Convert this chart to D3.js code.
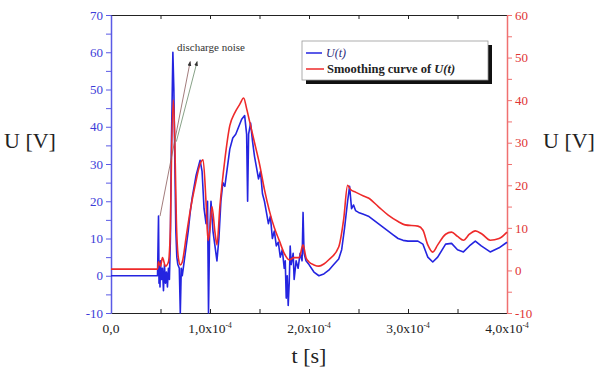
<!DOCTYPE html>
<html>
<head>
<meta charset="utf-8">
<script src="https://cdn.jsdelivr.net/npm/d3@7"></script>
<style>
  body { margin: 0; background: #fff; }
  svg text { font-family: "Liberation Serif", "DejaVu Serif", serif !important; }
</style>
</head>
<body>
<div id="chart"></div>
<script>
// time in units of 1e-4 s
const blueT = [0, 0.47, 0.475, 0.48, 0.485, 0.49, 0.495, 0.50, 0.51, 0.52, 0.53, 0.54, 0.55, 0.56, 0.57, 0.58, 0.59,
  0.60, 0.61, 0.625, 0.635, 0.645, 0.655, 0.665, 0.675, 0.69, 0.70, 0.71, 0.72, 0.74, 0.76, 0.78, 0.80, 0.82, 0.84,
  0.86, 0.88, 0.90, 0.92, 0.94, 0.96, 0.975, 0.985, 0.995, 1.01, 1.03, 1.05, 1.07, 1.09, 1.11, 1.13, 1.15, 1.17,
  1.20, 1.23, 1.26, 1.29, 1.32, 1.35, 1.37, 1.38, 1.39, 1.41, 1.43, 1.45, 1.47, 1.49, 1.51, 1.53, 1.55, 1.57, 1.59,
  1.61, 1.63, 1.65, 1.67, 1.69, 1.71, 1.73, 1.75, 1.76, 1.77, 1.78, 1.79, 1.80, 1.81, 1.82, 1.84, 1.85, 1.87, 1.89,
  1.91, 1.93, 1.94, 1.95, 1.97, 2.00, 2.05, 2.10, 2.15, 2.20, 2.25, 2.30, 2.33, 2.36, 2.39, 2.41, 2.43, 2.45, 2.47,
  2.50, 2.55, 2.60, 2.65, 2.70, 2.75, 2.80, 2.85, 2.90, 2.95, 3.00, 3.10, 3.15, 3.20, 3.25, 3.30, 3.38, 3.44, 3.50,
  3.56, 3.62, 3.68, 3.74, 3.83, 3.92, 4.00];
const blueU = [0, 0, 8, 16, -2, 3, -3, 4, -1, 2, -4, 3, -2, 1, -3, 2, -1,
  10, 35, 60, 50, 30, 12, 5, 3, 2, -10, 2, 0, 4, 8, 12, 17, 21, 24,
  27, 29, 31, 28, 18, 14, 20, -10, 10, 20, 12, 8, 4, 10, 20, 25, 24, 28,
  34, 37, 38, 40, 42, 43, 38, 20, 38, 41, 36, 32, 29, 26, 28, 22, 20, 17, 14,
  16, 10, 12, 8, 9, 5, 7, 2, 4, -6, 0, -8, -2, 8, 3, 6, -1, 4, 2,
  6, 4, 17, 6, 4, 3, 1, 0, 0.5, 1.5, 3, 4.5, 7, 13, 20, 24, 18, 19, 17.5,
  17, 16.5, 16, 15, 14, 13, 12, 11, 10, 9.5, 9.3, 9.3, 8.5, 5, 3.7, 5, 8.5, 8.7, 7,
  6.4, 8, 9.3, 8, 6.4, 7.5, 9];

const redT = [0, 0.47, 0.48, 0.50, 0.52, 0.55, 0.58, 0.60, 0.61, 0.63, 0.645, 0.66, 0.68, 0.70, 0.72, 0.76, 0.80,
  0.85, 0.90, 0.93, 0.96, 0.98, 1.00, 1.02, 1.05, 1.07, 1.10, 1.15, 1.20, 1.25, 1.30, 1.34, 1.37, 1.40, 1.45, 1.50,
  1.55, 1.60, 1.65, 1.70, 1.75, 1.80, 1.85, 1.90, 1.94, 1.97, 2.00, 2.05, 2.10, 2.15, 2.20, 2.30, 2.35, 2.39, 2.42,
  2.47, 2.55, 2.60, 2.70, 2.80, 2.90, 2.97, 3.10, 3.15, 3.20, 3.25, 3.30, 3.38, 3.44, 3.50, 3.56, 3.62, 3.68, 3.75,
  3.83, 3.92, 4.00];
const redU = [0.3, 0.3, 2, 1, 3, 1, 2, 10, 25, 40, 30, 12, 3, 1.3, 2, 8, 14,
  20, 25, 26, 16, 7, 10, 15, 9, 6, 15, 26, 34, 37, 39, 40.5, 38, 35, 30, 25,
  19, 14, 10, 7, 4, 2.5, 3, 3, 6, 3, 2, 1.3, 1, 1.5, 2.5, 5.5, 12, 20, 19,
  18.4, 17.5, 17, 15, 13, 11.5, 10.7, 10.4, 9.5, 6, 4.3, 6, 8.5, 9, 8, 7.1, 8.5, 9.3, 8.5,
  7.1, 7.5, 9];

const xTicks = [0, 1, 2, 3, 4];
const xTickLabels = ["0,0", "1,0x10", "2,0x10", "3,0x10", "4,0x10"];
const xTickExp = ["", "-4", "-4", "-4", "-4"];
const leftTicks = [-10, 0, 10, 20, 30, 40, 50, 60, 70];
const rightTicks = [-10, 0, 10, 20, 30, 40, 50, 60];

// annotation arrows, [t, U(left)] -> [t, U(left)]
const arrows = [
  [[0.495, 16], [0.80, 57.5]],
  [[0.66, 36], [0.87, 57.5]]
];

const W = 611, H = 383;
const mLeft = 111, mRight = 507, mTop = 15, mBottom = 313;
const blueCol = "#2424e0", redCol = "#ee2a2a";
const serif = "Liberation Serif, DejaVu Serif, serif";

const svg = d3.select("#chart").append("svg")
  .attr("width", W).attr("height", H)
  .style("font-family", serif);

const x = d3.scaleLinear().domain([0, 4]).range([mLeft, mRight]);
const yL = d3.scaleLinear().domain([-10, 70]).range([mBottom, mTop]);
const yR = d3.scaleLinear().domain([-10, 60]).range([mBottom, mTop]);

// axes
const gx = svg.append("g").attr("transform", "translate(0," + mBottom + ")")
  .call(d3.axisBottom(x).tickValues(d3.range(0, 4.01, 0.5)).tickSize(-4).tickSizeOuter(0).tickFormat(""));
gx.select(".domain").attr("stroke", "#222");
gx.selectAll(".tick line").attr("stroke", "#222");

const gxt = svg.append("g").attr("transform", "translate(0," + mTop + ")")
  .call(d3.axisTop(x).tickValues(d3.range(0, 4.01, 0.5)).tickSize(-4).tickSizeOuter(0).tickFormat(""));
gxt.select(".domain").attr("stroke", "#222");
gxt.selectAll(".tick line").attr("stroke", "#222");

xTicks.forEach((t, i) => {
  const tx = svg.append("text")
    .attr("x", x(t)).attr("y", mBottom + 20)
    .attr("text-anchor", "middle")
    .style("font-family", serif)
    .style("font-size", "13.5px").attr("fill", "#222")
    .text(xTickLabels[i]);
  if (xTickExp[i]) {
    tx.append("tspan").attr("dy", -5).style("font-size", "7.5px").text(xTickExp[i]);
  }
});

const gl = svg.append("g").attr("transform", "translate(" + mLeft + ",0)")
  .call(d3.axisLeft(yL).tickValues(d3.range(-10, 70.1, 5)).tickSize(5).tickSizeOuter(0)
    .tickFormat(d => leftTicks.includes(d) ? d : ""));
gl.attr("font-family", null);
gl.select(".domain").attr("stroke", "#5a5ae6").attr("stroke-width", 1.5);
gl.selectAll(".tick line").attr("stroke", "#5a5ae6");
gl.selectAll(".tick text").attr("fill", "#3c3cd8")
  .style("font-family", serif).style("font-size", "13px");

const gr = svg.append("g").attr("transform", "translate(" + mRight + ",0)")
  .call(d3.axisRight(yR).tickValues(d3.range(-10, 60.1, 5)).tickSize(5).tickSizeOuter(0)
    .tickFormat(d => rightTicks.includes(d) ? d : ""));
gr.attr("font-family", null);
gr.select(".domain").attr("stroke", "#f07070").attr("stroke-width", 1.5);
gr.selectAll(".tick line").attr("stroke", "#f07070");
gr.selectAll(".tick text").attr("fill", "#e03434")
  .style("font-family", serif).style("font-size", "13px");

// axis titles
svg.append("text").attr("x", 4).attr("y", 148).style("font-family", serif)
  .style("font-size", "22px").attr("fill", "#222").text("U [V]");
svg.append("text").attr("x", 543).attr("y", 148).style("font-family", serif)
  .style("font-size", "22px").attr("fill", "#222").text("U [V]");
svg.append("text").attr("x", x(2)).attr("y", 363).attr("text-anchor", "middle")
  .style("font-family", serif)
  .style("font-size", "22px").attr("fill", "#222").text("t [s]");

// curves
const blueData = blueT.map((t, i) => [t, blueU[i]]);
const redData = redT.map((t, i) => [t, redU[i]]);

svg.append("path").datum(blueData)
  .attr("fill", "none").attr("stroke", blueCol).attr("stroke-width", 1.6)
  .attr("stroke-linejoin", "round")
  .attr("d", d3.line().x(d => x(d[0])).y(d => yL(d[1])));

svg.append("path").datum(redData)
  .attr("fill", "none").attr("stroke", redCol).attr("stroke-width", 1.6)
  .attr("stroke-linejoin", "round")
  .attr("d", d3.line().curve(d3.curveMonotoneX).x(d => x(d[0])).y(d => yR(d[1])));

// annotation
svg.append("defs").append("marker")
  .attr("id", "arr").attr("viewBox", "0 0 10 10").attr("refX", 9).attr("refY", 5)
  .attr("markerWidth", 6).attr("markerHeight", 6).attr("orient", "auto")
  .append("path").attr("d", "M0,1 L10,5 L0,9 Z").attr("fill", "#333");

arrows.forEach((a, i) => {
  svg.append("line")
    .attr("x1", x(a[0][0])).attr("y1", yL(a[0][1]))
    .attr("x2", x(a[1][0])).attr("y2", yL(a[1][1]))
    .attr("stroke", i ? "#6a8a6a" : "#8a5a5a").attr("stroke-width", 0.8)
    .attr("marker-end", "url(#arr)");
});
svg.append("text").attr("x", 177).attr("y", 51).style("font-family", serif)
  .style("font-size", "11px").attr("fill", "#333").text("discharge noise");

// legend
const lg = svg.append("g").attr("transform", "translate(302,41)");
lg.append("rect").attr("x", 4).attr("y", 4).attr("width", 186).attr("height", 39).attr("fill", "#111");
lg.append("rect").attr("x", 0).attr("y", 0).attr("width", 186).attr("height", 39)
  .attr("fill", "#fff").attr("stroke", "#999").attr("stroke-width", 0.8);
lg.append("line").attr("x1", 4).attr("x2", 20).attr("y1", 12).attr("y2", 12)
  .attr("stroke", blueCol).attr("stroke-width", 1.5);
lg.append("text").attr("x", 24).attr("y", 16).style("font-family", serif).style("font-size", "12px")
  .style("font-style", "italic").attr("fill", "#2a2a7a").text("U(t)");
lg.append("line").attr("x1", 4).attr("x2", 22).attr("y1", 28).attr("y2", 28)
  .attr("stroke", redCol).attr("stroke-width", 1.5);
const lt = lg.append("text").attr("x", 25).attr("y", 32).style("font-family", serif).style("font-size", "12.5px")
  .style("font-weight", "bold").attr("fill", "#222").text("Smoothing curve of ");
lt.append("tspan").style("font-style", "italic").text("U(t)");
</script>
</body>
</html>
